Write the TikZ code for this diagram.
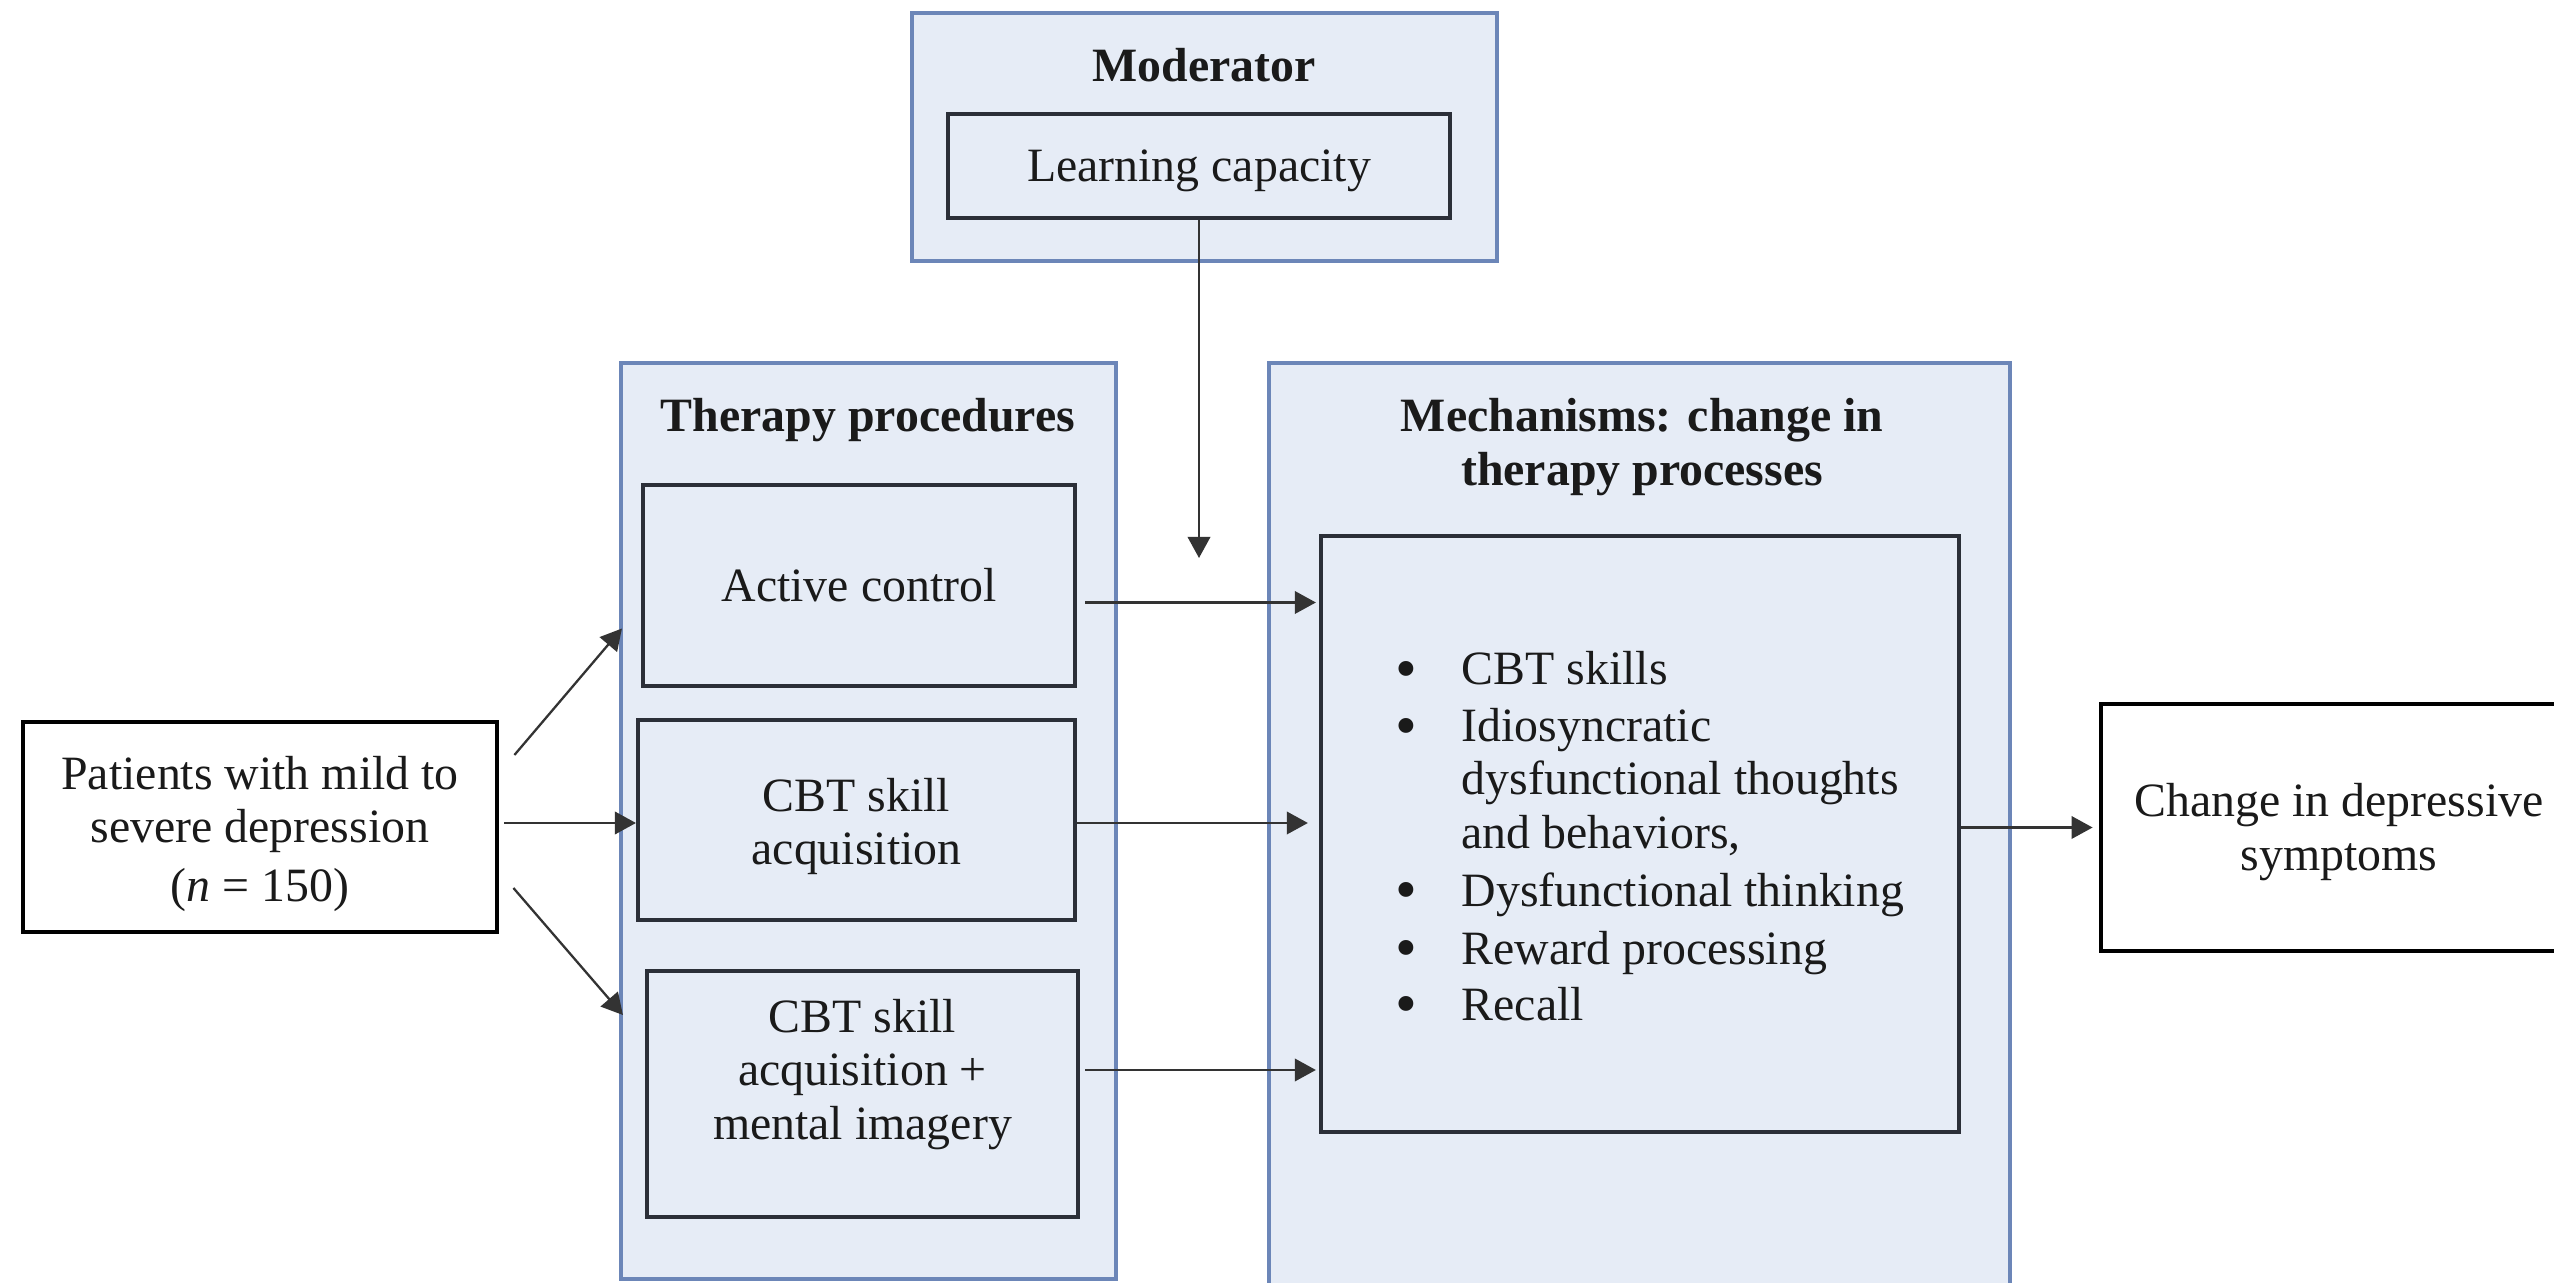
\documentclass[tikz,border=0pt]{standalone}
\usepackage{fontspec}
\setmainfont{Liberation Serif}
\usetikzlibrary{arrows.meta,calc}
\definecolor{grpfill}{HTML}{E6ECF6}
\definecolor{grpedge}{HTML}{6C86B8}
\definecolor{boxedge}{HTML}{2B2F38}
\definecolor{txt}{HTML}{1A1A1A}
% bullet with a fixed indent before the item text
\newcommand{\bul}{\makebox[0.66cm][l]{\raisebox{-1.2pt}{\scalebox{1.3}{\textbullet}}}}
\newcommand{\cont}{\hspace*{0.66cm}}
% centred lines of text, moved vertically by #1 without changing the box size
\newcommand{\shifted}[2]{\raisebox{#1}[\height][\depth]{\begin{tabular}{@{}c@{}}#2\end{tabular}}}

\begin{document}
\begin{tikzpicture}[x=0.01cm,y=-0.01cm,
  every node/.style={font=\fontsize{13.6}{15.2}\selectfont, inner sep=0pt, text=txt},
  group/.style={draw=grpedge, fill=grpfill, line width=1.1pt},
  inbox/.style={draw=boxedge, fill=grpfill, line width=1.1pt},
  plainbox/.style={draw=black, fill=white, line width=1.3pt},
  ttl/.style={font=\fontsize{13.6}{15.4}\selectfont\bfseries, align=center},
  link/.style={draw=black!80, line width=0.65pt, -{Triangle[length=6pt,width=6.4pt]}},
]
\clip (0,0) rectangle (2554,1283);
\fill[white] (0,0) rectangle (2554,1283);

% Moderator
\node[group, minimum width=5.85cm, minimum height=2.48cm] (modgrp) at (1204.5,137) {};
\node[ttl] (modttl) at (1204,65) {Moderator};
\node[inbox, minimum width=5.02cm, minimum height=1.04cm] (learn) at (1199,166)
  {\shifted{-1.5pt}{Learning capacity}};
\coordinate (modend) at (1199,558);

% Therapy procedures
\node[group, minimum width=4.95cm, minimum height=9.16cm] (thergrp) at (868.5,821) {};
\node[ttl] (therttl) at (868,420) {Therapy procedures};
\node[inbox, minimum width=4.32cm, minimum height=2.01cm] (act) at (859,585.5)
  {\shifted{-1.65pt}{Active control}};
\node[inbox, minimum width=4.37cm, minimum height=2.00cm] (cbt) at (856.5,820)
  {\shifted{-2.1pt}{CBT skill\\acquisition}};
\node[inbox, minimum width=4.31cm, minimum height=2.46cm] (img) at (862.5,1094)
  {\shifted{5.4pt}{CBT skill\\acquisition +\\mental imagery}};

% Mechanisms
\node[group, minimum width=7.41cm, minimum height=9.40cm] (mechgrp) at (1639.5,833) {};
\node[ttl] (mechttl) at (1642,447) {Mechanisms: change in\\therapy processes};
\node[inbox, minimum width=6.38cm, minimum height=5.96cm] (mech) at (1640,834) {};
\node[anchor=north west, align=left, font=\fontsize{13.6}{15.1}\selectfont] (mlist) at (1395,651)
  {\bul CBT skills\\[1.1pt]
   \bul Idiosyncratic\\
   \cont dysfunctional thoughts\\
   \cont and behaviors,\\[1.4pt]
   \bul Dysfunctional thinking\\[1.4pt]
   \bul Reward processing\\[1.0pt]
   \bul Recall};

% Input and outcome
\node[plainbox, minimum width=4.74cm, minimum height=2.10cm] (pat) at (260,827)
  {\shifted{-2.2pt}{Patients with mild to\\severe depression\\[1.5pt](\textit{n} = 150)}};
\node[plainbox, minimum width=4.76cm, minimum height=2.47cm] (chg) at (2339,827.5)
  {\shifted{-1.5pt}{Change in depressive\\symptoms}};

% Connectors
\draw[link] (learn.south) -- (modend);
\draw[link] ($(pat.east)+(15,-72)$) -- ($(act.west)+(-19,43)$);
\draw[link] ($(pat.east|-cbt.west)+(5,3)$) -- ($(cbt.west)+(0,3)$);
\draw[link] ($(pat.east)+(14,61)$) -- ($(img.west)+(-22,-79)$);
\draw[link] ($(act.east)+(8,17)$) -- ($(mech.west|-act.east)+(-3,17)$);
\draw[link] ($(cbt.east)+(0,3)$) -- ($(mech.west|-cbt.east)+(-11,3)$);
\draw[link] ($(img.east)+(5,-24)$) -- ($(mech.west|-img.east)+(-3,-24)$);
\draw[link] (mech.east|-chg.west) -- ($(chg.west)+(-6,0)$);
\end{tikzpicture}
\end{document}
